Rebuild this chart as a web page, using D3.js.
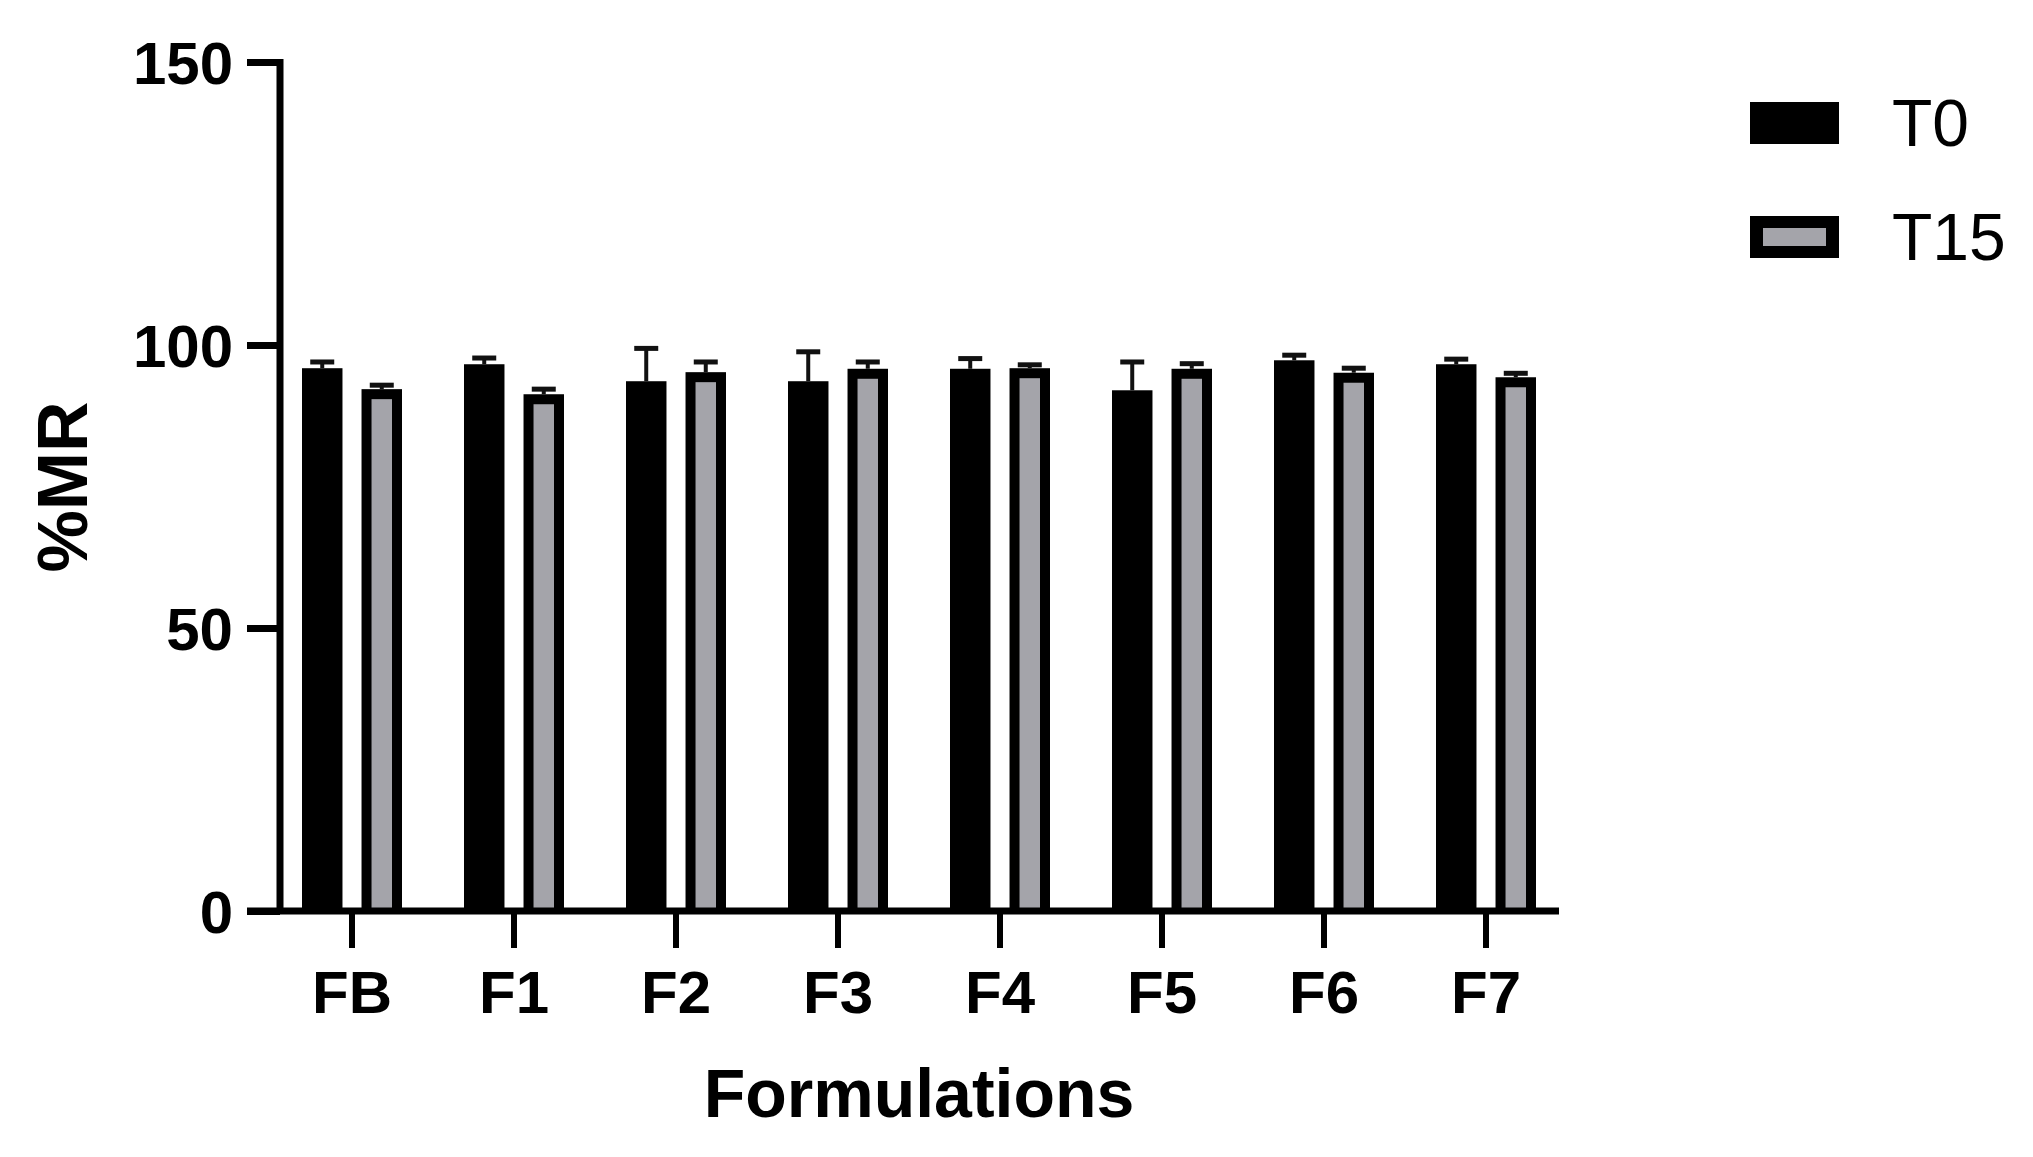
<!DOCTYPE html>
<html>
<head>
<meta charset="utf-8">
<script src="https://cdn.jsdelivr.net/npm/d3@7"></script>
<style>
  html, body { margin: 0; padding: 0; background: #fff; }
  svg { display: block; }
  text { font-family: "Liberation Sans", Arial, sans-serif; fill: #000; }
</style>
</head>
<body>
<div id="chart"></div>
<script>
// data
const categories = ['FB', 'F1', 'F2', 'F3', 'F4', 'F5', 'F6', 'F7'];
const seriesNames = ['T0', 'T15'];
const t0Mean = [95.9, 96.6, 93.6, 93.6, 95.8, 92.0, 97.3, 96.6];
const t0Sd = [1.1, 1.1, 5.8, 5.2, 1.8, 5.0, 0.9, 0.9];
const t15Mean = [92.2, 91.3, 95.2, 95.8, 95.9, 95.8, 95.1, 94.3];
const t15Sd = [0.7, 0.9, 1.8, 1.2, 0.6, 0.9, 0.8, 0.7];
const yTicks = [0, 50, 100, 150];

const width = 2033, height = 1157;
const grey = '#a4a4aa';
const border = 10;

const svg = d3.select('#chart').append('svg')
  .attr('width', width)
  .attr('height', height);

const y = d3.scaleLinear().domain([0, 150]).range([911, 62]);

const x = d3.scaleBand().domain(categories).range([271, 1567]).padding(0);

const xSub = d3.scaleBand().domain(seriesNames)
  .range([-50, 50]).paddingInner(0.32).paddingOuter(0);

const rows = [];
categories.forEach((c, i) => {
  rows.push({cat: c, s: 'T0', mean: t0Mean[i], sd: t0Sd[i]});
  rows.push({cat: c, s: 'T15', mean: t15Mean[i], sd: t15Sd[i]});
});

const barX = d => x(d.cat) + x.bandwidth() / 2 + xSub(d.s);

// bars
const bars = svg.append('g').attr('class', 'bars');
bars.selectAll('rect.outer')
  .data(rows)
  .enter().append('rect')
  .attr('class', 'outer')
  .attr('x', barX)
  .attr('y', d => y(d.mean))
  .attr('width', xSub.bandwidth())
  .attr('height', d => y(0) - y(d.mean))
  .attr('fill', '#000');

bars.selectAll('rect.inner')
  .data(rows.filter(d => d.s === 'T15'))
  .enter().append('rect')
  .attr('class', 'inner')
  .attr('x', d => barX(d) + border)
  .attr('y', d => y(d.mean) + border)
  .attr('width', xSub.bandwidth() - 2 * border)
  .attr('height', d => y(0) - y(d.mean) - border)
  .attr('fill', grey);

// error bars (upper only)
const err = svg.append('g').attr('class', 'errors');
err.selectAll('line.stem')
  .data(rows)
  .enter().append('line')
  .attr('x1', d => barX(d) + xSub.bandwidth() / 2)
  .attr('x2', d => barX(d) + xSub.bandwidth() / 2)
  .attr('y1', d => y(d.mean))
  .attr('y2', d => y(d.mean + d.sd))
  .attr('stroke', '#111')
  .attr('stroke-width', 4);

err.selectAll('line.cap')
  .data(rows)
  .enter().append('line')
  .attr('x1', d => barX(d) + xSub.bandwidth() / 2 - 12)
  .attr('x2', d => barX(d) + xSub.bandwidth() / 2 + 12)
  .attr('y1', d => y(d.mean + d.sd))
  .attr('y2', d => y(d.mean + d.sd))
  .attr('stroke', '#111')
  .attr('stroke-width', 5);

// y axis
const yAxis = svg.append('g')
  .attr('transform', 'translate(280,0)')
  .call(d3.axisLeft(y).tickValues(yTicks).tickSize(33).tickPadding(14).tickSizeOuter(0));
yAxis.select('.domain').attr('stroke', '#000').attr('stroke-width', 7)
  .attr('d', 'M0,' + (y(150) - 3) + 'V' + y(0));
yAxis.selectAll('.tick line').attr('stroke', '#000').attr('stroke-width', 7);
yAxis.selectAll('.tick text')
  .style('font-family', '"Liberation Sans", Arial, sans-serif')
  .style('font-size', '60px')
  .style('font-weight', 'bold')
  .attr('dy', '0.35em');

// x axis
const xAxis = svg.append('g')
  .attr('transform', 'translate(0,' + y(0) + ')')
  .call(d3.axisBottom(x).tickSize(37).tickPadding(22).tickSizeOuter(0));
xAxis.select('.domain').attr('stroke', '#000').attr('stroke-width', 7)
  .attr('d', 'M247,0H1559');
xAxis.selectAll('.tick line').attr('stroke', '#000').attr('stroke-width', 6);
xAxis.selectAll('.tick text')
  .style('font-family', '"Liberation Sans", Arial, sans-serif')
  .style('font-size', '60px')
  .style('font-weight', 'bold')
  .attr('dy', '0.71em');

// axis titles
svg.append('text')
  .attr('x', 919)
  .attr('y', 1117)
  .attr('text-anchor', 'middle')
  .style('font-size', '68px')
  .style('font-weight', 'bold')
  .text('Formulations');

svg.append('text')
  .attr('transform', 'translate(87,487) rotate(-90)')
  .attr('text-anchor', 'middle')
  .style('font-size', '70px')
  .style('font-weight', 'bold')
  .text('%MR');

// legend
const legend = svg.selectAll('.legend')
  .data(seriesNames)
  .enter().append('g')
  .attr('class', 'legend')
  .attr('transform', (d, i) => 'translate(1750,' + (102 + i * 114) + ')');

legend.append('rect')
  .attr('width', 89)
  .attr('height', 42)
  .attr('fill', '#000');

legend.filter(d => d === 'T15').append('rect')
  .attr('x', 13)
  .attr('y', 12)
  .attr('width', 89 - 26)
  .attr('height', 42 - 24)
  .attr('fill', grey);

legend.append('text')
  .attr('x', 142)
  .attr('y', 21)
  .attr('dy', '0.35em')
  .style('font-size', '66px')
  .text(d => d);
</script>
</body>
</html>
